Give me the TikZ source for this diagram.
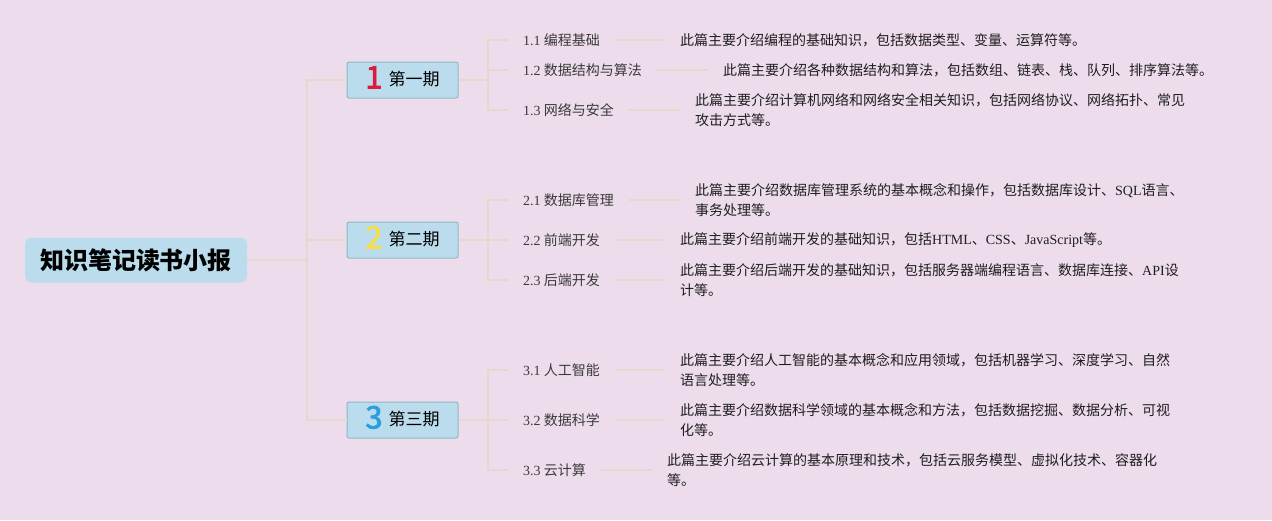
\documentclass[tikz,border=0pt]{standalone}
\usepackage{fontspec}
\setmainfont{Noto Sans CJK SC}
\newfontfamily\lat{Liberation Serif}
\newfontfamily\numfnt{Noto Sans CJK SC}[FakeBold=2.5]
\definecolor{bgc}{HTML}{EDDDEC}
\definecolor{boxfill}{HTML}{BADCED}
\definecolor{boxline}{HTML}{8FB8C4}
\definecolor{connc}{HTML}{E9D6CC}
\definecolor{numred}{HTML}{E0183A}
\definecolor{numyel}{HTML}{F2DE4C}
\definecolor{numblu}{HTML}{2A9FDD}
\definecolor{childtxt}{HTML}{3A3A3A}
\definecolor{desctxt}{HTML}{1E1E1E}
\tikzset{
  conn/.style={draw=connc, line width=1.3pt},
  rootbox/.style={fill=boxfill, rounded corners=7pt, minimum width=222pt, minimum height=45pt, inner sep=0pt, font=\fontsize{24}{26}\selectfont\bfseries, text=black},
  periodbox/.style={fill=boxfill, draw=boxline, line width=1pt, rounded corners=2pt, minimum width=111pt, minimum height=36pt, inner sep=0pt, font=\fontsize{17}{20}\selectfont, text=black},
  childnode/.style={anchor=west, inner xsep=15pt, inner ysep=2pt, font=\fontsize{14}{20}\selectfont, text=childtxt},
  descnode/.style={anchor=west, inner xsep=15pt, inner ysep=2pt, align=left, font=\fontsize{14}{20}\selectfont, text=desctxt}
}
\newcommand{\pnum}[2]{\raisebox{-2.5pt}{\smash{\numfnt\fontsize{31}{31}\selectfont\color{#1}#2}}\hspace{6pt}}
\begin{document}
\begin{tikzpicture}[x=1pt,y=-1pt]
\fill[bgc] (0,0) rectangle (1272,520);
\useasboundingbox (0,0) rectangle (1272,520);

% root
\node[rootbox] (root) at (136,260) {知识笔记读书小报};

% periods
\node[periodbox] (p1) at (402.5,80) {\pnum{numred}{1}第一期};
\node[periodbox] (p2) at (402.5,240) {\pnum{numyel}{2}第二期};
\node[periodbox] (p3) at (402.5,420) {\pnum{numblu}{3}第三期};

\coordinate (j0) at (307,260);
\coordinate (j1) at (488,80);
\coordinate (j2) at (488,240);
\coordinate (j3) at (488,420);

% children
\node[childnode] (c11) at (508,40) {{\lat 1.1} 编程基础};
\node[childnode] (c12) at (508,70) {{\lat 1.2} 数据结构与算法};
\node[childnode] (c13) at (508,110) {{\lat 1.3} 网络与安全};
\node[childnode] (c21) at (508,200) {{\lat 2.1} 数据库管理};
\node[childnode] (c22) at (508,240) {{\lat 2.2} 前端开发};
\node[childnode] (c23) at (508,280) {{\lat 2.3} 后端开发};
\node[childnode] (c31) at (508,370) {{\lat 3.1} 人工智能};
\node[childnode] (c32) at (508,420) {{\lat 3.2} 数据科学};
\node[childnode] (c33) at (508,470) {{\lat 3.3} 云计算};

% descriptions
\node[descnode] (d11) at (665,40) {此篇主要介绍编程的基础知识，包括数据类型、变量、运算符等。};
\node[descnode] (d12) at (708,70) {此篇主要介绍各种数据结构和算法，包括数组、链表、栈、队列、排序算法等。};
\node[descnode] (d13) at (680,110) {此篇主要介绍计算机网络和网络安全相关知识，包括网络协议、网络拓扑、常见\\攻击方式等。};
\node[descnode] (d21) at (680,200) {此篇主要介绍数据库管理系统的基本概念和操作，包括数据库设计、{\lat SQL}语言、\\事务处理等。};
\node[descnode] (d22) at (665,240) {此篇主要介绍前端开发的基础知识，包括{\lat HTML}、{\lat CSS}、{\lat JavaScript}等。};
\node[descnode] (d23) at (665,280) {此篇主要介绍后端开发的基础知识，包括服务器端编程语言、数据库连接、{\lat API}设\\计等。};
\node[descnode] (d31) at (665,370) {此篇主要介绍人工智能的基本概念和应用领域，包括机器学习、深度学习、自然\\语言处理等。};
\node[descnode] (d32) at (665,420) {此篇主要介绍数据科学领域的基本概念和方法，包括数据挖掘、数据分析、可视\\化等。};
\node[descnode] (d33) at (652,470) {此篇主要介绍云计算的基本原理和技术，包括云服务模型、虚拟化技术、容器化\\等。};

% connectors
\draw[conn] (root.east) -- (j0) |- (p1.west);
\draw[conn] (j0) |- (p2.west);
\draw[conn] (j0) |- (p3.west);

\draw[conn] (p1.east) -- (j1) |- (c11.west);
\draw[conn] (j1) |- (c12.west);
\draw[conn] (j1) |- (c13.west);
\draw[conn] (p2.east) -- (j2) |- (c21.west);
\draw[conn] (j2) |- (c22.west);
\draw[conn] (j2) |- (c23.west);
\draw[conn] (p3.east) -- (j3) |- (c31.west);
\draw[conn] (j3) |- (c32.west);
\draw[conn] (j3) |- (c33.west);

\draw[conn] (c11.east) -- (d11.west);
\draw[conn] (c12.east) -- (d12.west);
\draw[conn] (c13.east) -- (d13.west);
\draw[conn] (c21.east) -- (d21.west);
\draw[conn] (c22.east) -- (d22.west);
\draw[conn] (c23.east) -- (d23.west);
\draw[conn] (c31.east) -- (d31.west);
\draw[conn] (c32.east) -- (d32.west);
\draw[conn] (c33.east) -- (d33.west);
\end{tikzpicture}
\end{document}
